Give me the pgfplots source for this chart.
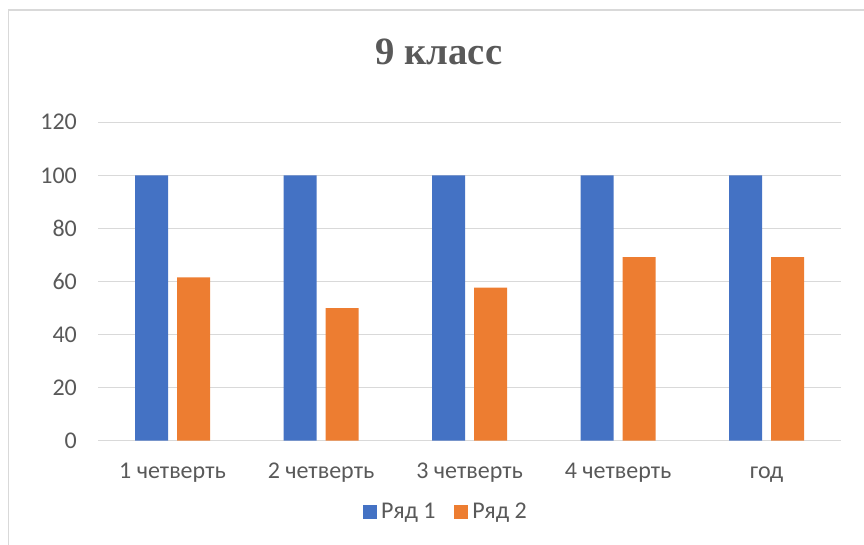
\documentclass[border=0pt]{standalone}
\usepackage{pgfplots}
\pgfplotsset{compat=1.18}
\usepackage{fontspec}
\setmainfont{Carlito}
\newfontfamily\titlefont{Liberation Serif}
\definecolor{bblue}{HTML}{4472C4}
\definecolor{borange}{HTML}{ED7D31}
\definecolor{gridc}{HTML}{D9D9D9}
\definecolor{txt}{HTML}{595959}
\begin{document}
\begin{tikzpicture}
\path[use as bounding box] (0pt,0pt) rectangle (648pt,408pt);
\draw[gridc, line width=1pt] (6.4pt,-5pt) -- (6.4pt,400.5pt) -- (660pt,400.5pt);
\node[text=txt, font=\titlefont\fontsize{29}{34}\selectfont\bfseries] at (329.25pt,369pt) {9 класс};
\begin{axis}[
  at={(73.7pt,77.5pt)}, anchor=south west, scale only axis,
  width=557pt, height=238.8pt,
  xmin=-0.5, xmax=4.5, ymin=0, ymax=120,
  ytick={0,20,...,120},
  xtick={0,...,4},
  xticklabels={1 четверть, 2 четверть, 3 четверть, 4 четверть, год},
  ybar, bar width=24.75pt,
  axis line style={draw=none}, major tick length=0pt,
  ymajorgrids, grid style={gridc, line width=1pt},
  tick label style={text=txt, font=\fontsize{18}{21}\selectfont},
  yticklabel style={xshift=-12.5pt},
  xticklabel style={anchor=base, yshift=-28pt},
  /pgf/number format/assume math mode=true,
  legend columns=2,
  legend style={draw=none, fill=none, at={(0.4695,-0.224)}, anchor=center,
    font=\fontsize{18}{21}\selectfont, text=txt,
    nodes={inner sep=3pt},
    /tikz/every even column/.append style={column sep=11pt}},
]
\addplot[fill=bblue, draw=none, bar shift=-15.75pt,
  legend image code/.code={\fill[bblue] (0pt,-5.25pt) rectangle (10.5pt,5.25pt);}]
  coordinates {(0,100) (1,100) (2,100) (3,100) (4,100)};
\addplot[fill=borange, draw=none, bar shift=15.75pt,
  legend image code/.code={\fill[borange] (0pt,-5.25pt) rectangle (10.5pt,5.25pt);}]
  coordinates {(0,61.5) (1,50) (2,57.7) (3,69.2) (4,69.2)};
\legend{Ряд 1, Ряд 2}
\end{axis}
\end{tikzpicture}
\end{document}
